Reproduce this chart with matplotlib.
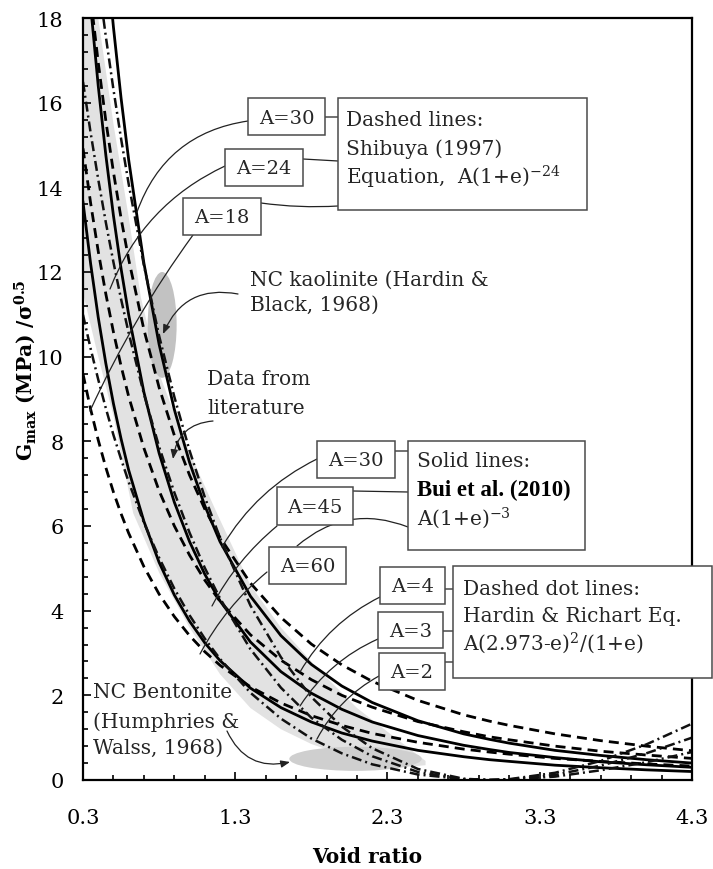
import matplotlib
matplotlib.use("Agg")
import matplotlib.pyplot as plt
from matplotlib.patches import Ellipse, Rectangle, FancyArrowPatch

plt.rcParams['font.family'] = 'DejaVu Serif'
plt.rcParams['mathtext.fontset'] = 'dejavuserif'

# void ratio grid and G/sigma^0.5 values
e = [0.3, 0.35, 0.4, 0.45, 0.5, 0.55, 0.6, 0.7, 0.8, 0.9, 1.0, 1.1, 1.2,
     1.4, 1.6, 1.8, 2.0, 2.2, 2.5, 2.8, 2.97, 3.1, 3.4, 3.7, 4.0, 4.3]

# solid lines, Bui et al. (2010)
solid_30 = [13.65, 12.20, 10.93, 9.84, 8.89, 8.06, 7.32, 6.11, 5.14, 4.37, 3.75, 3.24, 2.82,
            2.17, 1.71, 1.37, 1.11, 0.92, 0.70, 0.55, 0.48, 0.44, 0.35, 0.29, 0.24, 0.20]
solid_45 = [20.48, 18.29, 16.40, 14.76, 13.33, 12.08, 10.99, 9.16, 7.72, 6.56, 5.63, 4.86, 4.23,
            3.26, 2.56, 2.05, 1.67, 1.37, 1.05, 0.82, 0.72, 0.65, 0.53, 0.43, 0.36, 0.30]
solid_60 = [27.31, 24.39, 21.87, 19.68, 17.78, 16.11, 14.65, 12.21, 10.29, 8.75, 7.50, 6.48, 5.63,
            4.34, 3.41, 2.73, 2.22, 1.83, 1.40, 1.09, 0.96, 0.87, 0.70, 0.58, 0.48, 0.40]

# dashed lines, Shibuya (1997)
dash_18 = [9.59, 8.76, 8.03, 7.38, 6.80, 6.29, 5.83, 5.04, 4.39, 3.86, 3.41, 3.03, 2.71,
           2.20, 1.82, 1.52, 1.29, 1.10, 0.89, 0.73, 0.66, 0.61, 0.51, 0.44, 0.38, 0.33]
dash_24 = [14.92, 13.63, 12.49, 11.48, 10.58, 9.78, 9.06, 7.84, 6.83, 6.00, 5.31, 4.72, 4.22,
           3.43, 2.83, 2.37, 2.00, 1.72, 1.38, 1.14, 1.02, 0.95, 0.80, 0.68, 0.59, 0.51]
dash_30 = [20.25, 18.49, 16.95, 15.57, 14.36, 13.27, 12.30, 10.64, 9.27, 8.14, 7.20, 6.40, 5.73,
           4.65, 3.84, 3.21, 2.72, 2.33, 1.88, 1.54, 1.39, 1.29, 1.09, 0.93, 0.80, 0.69]

# dashed dot lines, Hardin & Richart
dd_2 = [10.99, 10.19, 9.46, 8.78, 8.15, 7.58, 7.04, 6.08, 5.25, 4.52, 3.89, 3.34, 2.86,
        2.06, 1.45, 0.98, 0.63, 0.37, 0.13, 0.02, 0.00, 0.01, 0.08, 0.23, 0.42, 0.66]
dd_3 = [16.49, 15.29, 14.19, 13.17, 12.23, 11.36, 10.56, 9.12, 7.87, 6.79, 5.84, 5.01, 4.29,
        3.09, 2.18, 1.47, 0.95, 0.56, 0.19, 0.02, 0.00, 0.01, 0.12, 0.34, 0.63, 1.00]
dd_4 = [21.98, 20.39, 18.92, 17.56, 16.31, 15.15, 14.08, 12.16, 10.49, 9.05, 7.78, 6.68, 5.72,
        4.12, 2.90, 1.96, 1.26, 0.75, 0.26, 0.03, 0.00, 0.02, 0.17, 0.45, 0.84, 1.33]

# shaded band "Data from literature"
band_hi_e = [0.30, 0.40, 0.50, 0.60, 0.68, 0.80, 0.98, 1.18, 1.40, 1.60, 1.85, 2.10, 2.35, 2.55]
band_hi = [18.0, 18.0, 15.5, 13.3, 11.4, 9.6, 7.9, 6.3, 4.6, 3.6, 2.6, 1.7, 1.0, 0.45]
band_lo_e = [0.30, 0.40, 0.50, 0.63, 0.80, 1.00, 1.20, 1.40, 1.60, 1.80, 2.00, 2.20, 2.40, 2.55]
band_lo = [11.5, 10.0, 8.6, 6.3, 4.9, 3.6, 2.5, 1.7, 1.2, 0.85, 0.6, 0.4, 0.3, 0.35]

# NC kaolinite and NC bentonite zones (centre e, centre G, width, height)
kaolinite = (0.82, 10.75, 0.19, 2.5)
bentonite = (2.09, 0.50, 0.87, 0.57)

W, H = 713, 870
fig = plt.figure(figsize=(W / 100, H / 100), dpi=100)


def fp(x, y):
    return (x / W, 1 - y / H)


ax = fig.add_axes([83 / W, 1 - 781 / H, (692 - 83) / W, (781 - 19) / H])

ax.fill(band_hi_e + band_lo_e[::-1], band_hi + band_lo[::-1], color='#e2e2e2', lw=0, zorder=0)
ax.add_patch(Ellipse(kaolinite[:2], kaolinite[2], kaolinite[3], color='#c2c2c2', lw=0, zorder=0))
ax.add_patch(Ellipse(bentonite[:2], bentonite[2], bentonite[3], color='#cfcfcf', lw=0, zorder=0))

for y in [solid_30, solid_45, solid_60]:
    ax.plot(e, y, color='black', lw=2)
for y in [dash_18, dash_24, dash_30]:
    ax.plot(e, y, color='black', lw=2, dashes=(3.6, 2.2))
for y in [dd_2, dd_3, dd_4]:
    ax.plot(e, y, color='#111111', lw=1.8, dashes=(4, 1.6, 0.8, 1.6))

ax.set_xlim(0.3, 4.3)
ax.set_ylim(0, 18)
ax.set_xticks([0.3, 1.3, 2.3, 3.3, 4.3])
ax.set_xticks([0.3 + 0.2 * i for i in range(21)], minor=True)
ax.set_yticks(range(0, 19, 2))
ax.set_yticks([0.4 * i for i in range(46)], minor=True)
ax.tick_params(which='both', direction='in', top=False, right=False, width=1.2)
ax.tick_params(which='major', length=5.5, labelsize=15)
ax.tick_params(which='minor', length=3.5)
ax.tick_params(axis='x', pad=20)
ax.tick_params(axis='y', pad=14)
for s in ax.spines.values():
    s.set_linewidth(1.6)

fig.text(*fp(367, 857), 'Void ratio', fontsize=14.5, fontweight='bold', ha='center', va='center')
fig.text(*fp(25, 370), r'G$_{\mathbf{max}}$ (MPa) /σ$^{\mathbf{0.5}}$', fontsize=14.5,
         fontweight='bold', rotation=90, ha='center', va='center')

tc = '#262626'


def box(x0, y0, x1, y1):
    fig.add_artist(Rectangle(fp(x0, y1), (x1 - x0) / W, (y1 - y0) / H, transform=fig.transFigure,
                             fc='white', ec='#4a4a4a', lw=1.1, zorder=5))


def label_box(x0, y0, x1, y1, s):
    box(x0, y0, x1, y1)
    fig.text(*fp((x0 + x1) / 2, (y0 + y1) / 2 + 1), s, fontsize=14, ha='center', va='center',
             color=tc, zorder=6)


def line(a, b, rad=0.0, arrow=False, z=4):
    style = '-|>,head_length=0.45,head_width=0.18' if arrow else '-'
    fig.add_artist(FancyArrowPatch(fp(*a), fp(*b), transform=fig.transFigure, arrowstyle=style,
                                   connectionstyle='arc3,rad=%s' % rad, lw=0.9, color='#222222',
                                   mutation_scale=12, shrinkA=0, shrinkB=0, zorder=z))


# dashed lines group
label_box(248, 99, 325, 136, 'A=30')
label_box(225, 150, 303, 187, 'A=24')
label_box(183, 199, 261, 236, 'A=18')
box(338, 99, 587, 211)
fig.text(*fp(346, 120), 'Dashed lines:', fontsize=14.5, va='center', color=tc, zorder=6)
fig.text(*fp(346, 149), 'Shibuya (1997)', fontsize=14.5, va='center', color=tc, zorder=6)
fig.text(*fp(346, 177), r'Equation,  A(1+e)$^{-24}$', fontsize=14.5, va='center', color=tc, zorder=6)
line((325, 118), (338, 118))
line((303, 160), (338, 162))
line((261, 204), (338, 207), rad=0.05)
line((248, 122), (137, 213), rad=0.3)
line((225, 167), (110, 290), rad=0.2)
line((193, 236), (90, 412), rad=0.05)

# kaolinite / literature notes
fig.text(*fp(250, 280), 'NC kaolinite (Hardin &', fontsize=14.5, va='center', color=tc)
fig.text(*fp(250, 305), 'Black, 1968)', fontsize=14.5, va='center', color=tc)
line((238, 295), (163, 335), rad=0.4, arrow=True)
fig.text(*fp(207, 380), 'Data from', fontsize=14.5, va='center', color=tc)
fig.text(*fp(207, 408), 'literature', fontsize=14.5, va='center', color=tc)
line((213, 422), (173, 460), rad=0.4, arrow=True)

# solid lines group
label_box(317, 442, 395, 479, 'A=30')
label_box(277, 488, 353, 526, 'A=45')
label_box(269, 548, 346, 585, 'A=60')
box(408, 442, 585, 551)
fig.text(*fp(417, 462), 'Solid lines:', fontsize=14.5, va='center', color=tc, zorder=6)
fig.text(*fp(417, 490), 'Bui et al. (2010)', fontsize=16.5, fontweight='bold', va='center',
         family='Liberation Serif', color='black', zorder=6)
fig.text(*fp(417, 518), r'A(1+e)$^{-3}$', fontsize=14.5, va='center', color=tc, zorder=6)
line((395, 452), (408, 452))
line((353, 492), (408, 493))
line((297, 547), (408, 528), rad=-0.3)
line((317, 460), (222, 548), rad=0.15)
line((277, 527), (212, 607), rad=0.1)
line((267, 573), (200, 655), rad=0.1)

# dashed dot group
label_box(380, 568, 445, 605, 'A=4')
label_box(378, 613, 443, 649, 'A=3')
label_box(379, 654, 445, 691, 'A=2')
box(453, 567, 712, 679)
fig.text(*fp(463, 590), 'Dashed dot lines:', fontsize=14.5, va='center', color=tc, zorder=6)
fig.text(*fp(463, 617), 'Hardin & Richart Eq.', fontsize=14.5, va='center', color=tc, zorder=6)
fig.text(*fp(463, 643), r'A(2.973-e)$^2$/(1+e)', fontsize=14.5, va='center', color=tc, zorder=6)
line((445, 590), (453, 590))
line((443, 632), (453, 632))
line((445, 663), (453, 663))
line((380, 598), (300, 673), rad=0.15)
line((378, 640), (300, 707), rad=0.15)
line((379, 677), (317, 740), rad=0.15)

# bentonite note
fig.text(*fp(93, 693), 'NC Bentonite', fontsize=14.5, va='center', color=tc)
fig.text(*fp(93, 722), '(Humphries &', fontsize=14.5, va='center', color=tc)
fig.text(*fp(93, 748), 'Walss, 1968)', fontsize=14.5, va='center', color=tc)
line((227, 732), (290, 763), rad=0.4, arrow=True)

fig.savefig('out.png', dpi=100)
